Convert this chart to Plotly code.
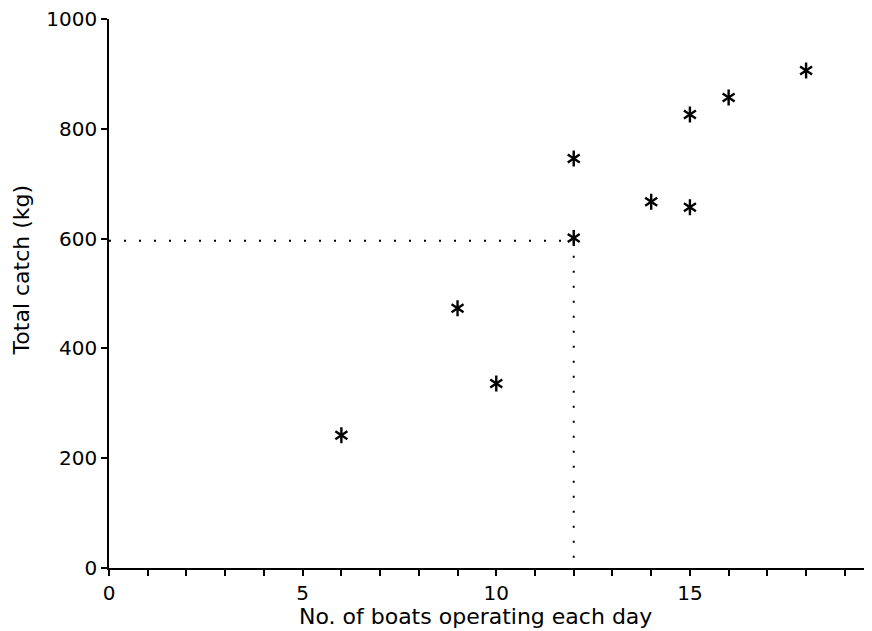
import plotly.graph_objects as go

# Data
boats = [6, 9, 10, 12, 12, 14, 15, 15, 16, 18]
catch_kg = [242, 473, 336, 746, 601, 667, 826, 657, 857, 906]

# Reference (dotted) lines
ref_boats = 12
ref_catch = 596

x_tickvals = list(range(0, 20))
x_ticktext = ["0", "", "", "", "", "5", "", "", "", "", "10", "", "", "", "", "15", "", "", "", ""]
y_tickvals = [0, 200, 400, 600, 800, 1000]
y_ticktext = ["0", "200", "400", "600", "800", "1000"]

FONT = "DejaVu Sans"

fig = go.Figure()

# dotted guide lines
fig.add_trace(go.Scatter(
    x=[0, ref_boats], y=[ref_catch, ref_catch], mode="lines",
    line=dict(color="black", width=2, dash="2px,13px"), hoverinfo="skip", showlegend=False))
fig.add_trace(go.Scatter(
    x=[ref_boats, ref_boats], y=[ref_catch, 0], mode="lines",
    line=dict(color="black", width=2, dash="2px,13px"), hoverinfo="skip", showlegend=False))

# six-armed asterisk markers built from two Y symbols
for sym in ["y-up-open", "y-down-open"]:
    fig.add_trace(go.Scatter(
        x=boats, y=catch_kg, mode="markers",
        marker=dict(symbol=sym, size=10, color="black",
                    line=dict(color="black", width=2.4)),
        showlegend=False))

fig.update_layout(
    width=864, height=623,
    margin=dict(l=101, r=2, t=11, b=63),
    plot_bgcolor="white", paper_bgcolor="white",
    font=dict(family=FONT, size=20, color="black"),
    showlegend=False,
)

fig.update_xaxes(
    range=[0, 19.65], showgrid=False, zeroline=False, automargin=False,
    showline=True, linecolor="black", linewidth=1.5,
    ticks="outside", ticklen=6, tickwidth=1.5, tickcolor="black",
    tickvals=x_tickvals, ticktext=x_ticktext, ticklabeloverflow="allow",
    tickfont=dict(family=FONT, size=20, color="black"),
)
fig.update_yaxes(
    range=[0, 1000], showgrid=False, zeroline=False, automargin=False,
    showline=True, linecolor="black", linewidth=1.5,
    ticks="outside", ticklen=6, tickwidth=1.5, tickcolor="black",
    tickvals=y_tickvals, ticktext=y_ticktext, ticklabeloverflow="allow",
    tickfont=dict(family=FONT, size=20, color="black"),
)

fig.add_annotation(
    text="No. of boats operating each day", xref="paper", yref="paper",
    x=0.481, y=-0.089, xanchor="center", yanchor="middle", showarrow=False,
    font=dict(family=FONT, size=22, color="black"))
fig.add_annotation(
    text="Total catch (kg)", xref="paper", yref="paper",
    x=-0.115, y=0.543, xanchor="center", yanchor="middle", showarrow=False,
    textangle=-90, font=dict(family=FONT, size=22, color="black"))

fig.write_html("out.html")
